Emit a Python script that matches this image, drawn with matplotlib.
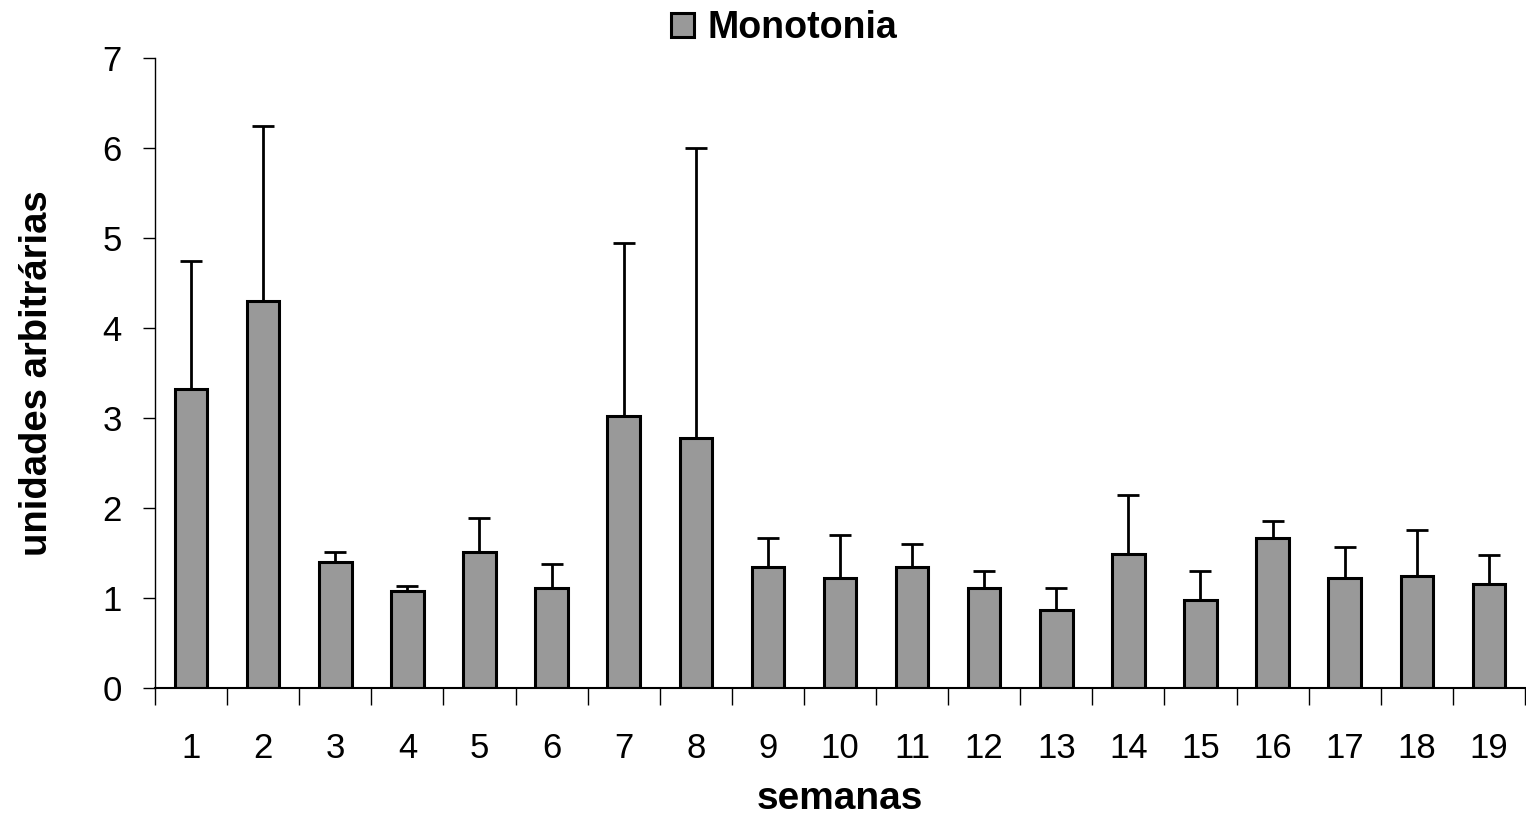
import numpy as np
import matplotlib
matplotlib.use("Agg")
import matplotlib.pyplot as plt

plt.rcParams['font.family'] = ['Liberation Sans', 'DejaVu Sans']

# Monotonia semanal (media e desvio padrao)
semanas = list(range(1, 20))
monotonia = [3.32, 4.30, 1.40, 1.08, 1.51, 1.11, 3.02, 2.78, 1.35, 1.22,
             1.35, 1.11, 0.87, 1.49, 0.98, 1.67, 1.22, 1.24, 1.16]
desvio = [1.43, 1.94, 0.11, 0.05, 0.38, 0.27, 1.92, 3.22, 0.32, 0.48,
          0.25, 0.19, 0.24, 0.65, 0.32, 0.19, 0.35, 0.52, 0.32]

fig = plt.figure(figsize=(15.26, 8.15), dpi=100)
ax = fig.add_axes([0.1016, 0.1558, 0.8977, 0.773])

x = np.array(semanas)
ax.bar(x, monotonia, width=0.45, color='#999999', edgecolor='black',
       linewidth=2.2, label='Monotonia', zorder=2)
ax.errorbar(x, monotonia, yerr=[np.zeros(len(desvio)), desvio], fmt='none',
            ecolor='black', elinewidth=2.0, capsize=8, capthick=2.0, zorder=1)

ax.set_xlim(0.5, 19.5)
ax.set_ylim(0, 7)
ax.set_yticks(range(0, 8))

# rotulos centrados, marcas nas divisas entre semanas
ax.set_xticks(x)
ax.set_xticklabels([str(s) for s in semanas])
ax.tick_params(axis='x', which='major', length=0, pad=31.5, labelsize=25)
ax.set_xticks(np.arange(0.5, 20.0, 1.0), minor=True)
ax.tick_params(axis='x', which='minor', length=12, width=1, direction='out')
ax.tick_params(axis='y', length=9, width=1, pad=15, labelsize=25)

for side in ('top', 'right'):
    ax.spines[side].set_visible(False)
ax.spines['left'].set_linewidth(1)
ax.spines['bottom'].set_linewidth(1.5)

ax.set_xlabel('semanas', fontsize=28, fontweight='bold', va='baseline')
ax.xaxis.set_label_coords(0.5, -0.192)
ax.set_ylabel('unidades arbitrárias', fontsize=27.5, fontweight='bold', va='center')
ax.yaxis.set_label_coords(-0.0865, 0.5)

ax.legend(loc='upper left', bbox_to_anchor=(671 / 1526, 1 - 10 / 815),
          bbox_transform=fig.transFigure, frameon=False,
          prop={'size': 27, 'weight': 'bold'}, handlelength=0.62,
          handleheight=0.62, handletextpad=0.35, borderpad=0, borderaxespad=0)

fig.savefig('out.png', dpi=100)
